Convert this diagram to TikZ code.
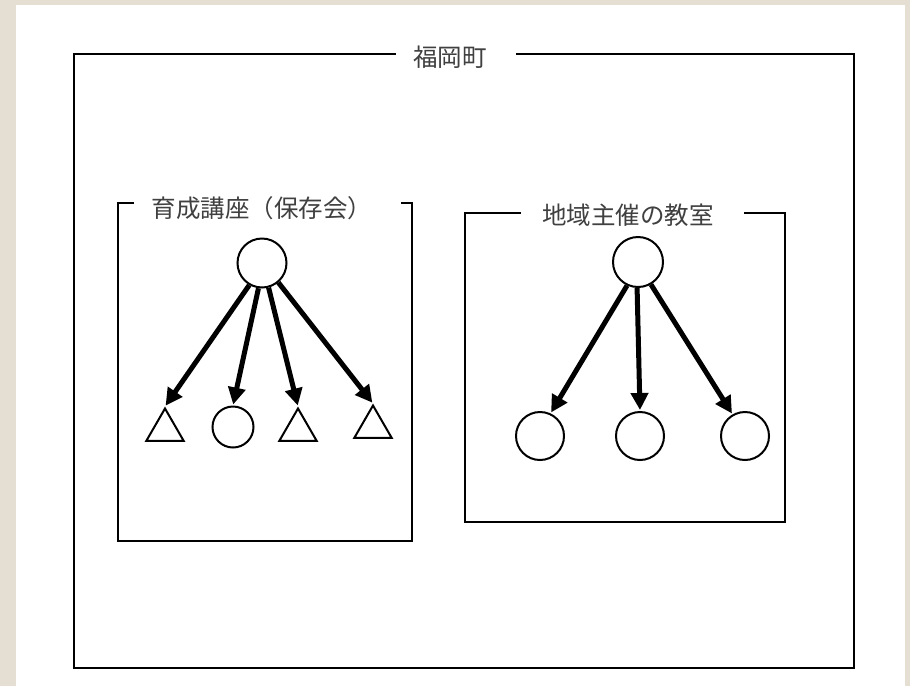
\documentclass[tikz,border=0pt]{standalone}
\usepackage{fontspec}
\newfontfamily\cjk{Noto Sans CJK JP}
\usetikzlibrary{arrows.meta,shapes.geometric}
\definecolor{beige}{HTML}{E5DED3}
\begin{document}
\begin{tikzpicture}[x=1pt,y=-1pt,
  frame/.style={line width=2.3pt,line cap=rect},
  ttl/.style={font=\cjk\fontsize{24.5}{26}\selectfont,text=black!75,inner sep=0pt},
  circ/.style={circle,draw,line width=2pt,minimum size=#1,inner sep=0pt},
  tri/.style={regular polygon,regular polygon sides=3,draw,line width=2pt,minimum size=43pt,inner sep=0pt},
  arr/.style={line width=5pt,-{Triangle[length=17pt,width=17pt]},shorten >=1pt}]
\useasboundingbox (0,0) rectangle (910,686);
\fill[beige] (0,0) rectangle (910,686);
\fill[white] (16,5) rectangle (905,686);
% outer frame
\coordinate (o1) at (395,54);
\coordinate (o2) at (517,54);
\draw[frame] (o1) -- (74,54) -- (74,668) -- (854,668) -- (854,54) -- (o2);
\node[ttl] (t0) at (450,57) {福岡町};
% left frame
\coordinate (l1) at (133,203);
\coordinate (l2) at (402,203);
\draw[frame] (l1) -- (118,203) -- (118,541) -- (412,541) -- (412,203) -- (l2);
\node[ttl] (t1) at (262,208) {育成講座（保存会）};
% right frame
\coordinate (r1) at (520,213);
\coordinate (r2) at (745,213);
\draw[frame] (r1) -- (465,213) -- (465,522) -- (785,522) -- (785,213) -- (r2);
\node[ttl] (t2) at (628,215) {地域主催の教室};
% left tree
\node[circ=49pt] (L) at (262,263) {};
\node[tri] (La) at (165,430) {};
\node[circ=41pt] (Lb) at (233,427) {};
\node[tri] (Lc) at (298,430) {};
\node[tri] (Ld) at (373,427) {};
\draw[arr] (L.240) -- (La.north);
\draw[arr] (L.262) -- (Lb.north);
\draw[arr] (L.285) -- (Lc.north);
\draw[arr] (L.310) -- (Ld.north);
% right tree
\node[circ=50pt] (R) at (638,262) {};
\node[circ=48pt] (Ra) at (540,436) {};
\node[circ=48pt] (Rb) at (640,436) {};
\node[circ=48pt] (Rc) at (745,436) {};
\draw[arr] (R.245) -- (Ra.65);
\draw[arr] (R.268) -- (Rb.north);
\draw[arr] (R.300) -- (Rc.120);
\end{tikzpicture}
\end{document}
